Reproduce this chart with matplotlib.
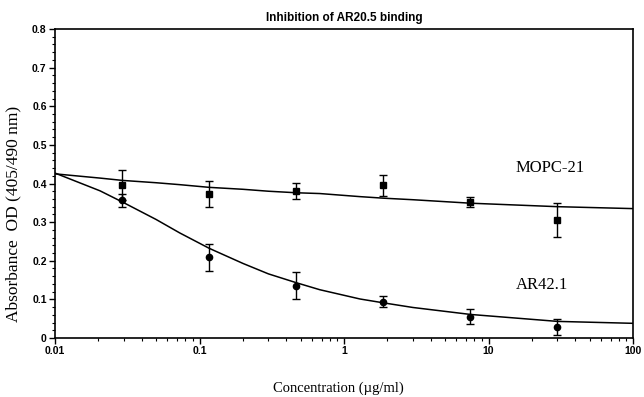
import matplotlib
matplotlib.use('Agg')
from matplotlib import pyplot as plt
from matplotlib.ticker import MultipleLocator, FixedLocator, NullFormatter

# measured points (ug/ml vs OD)
conc = [0.0293, 0.117, 0.469, 1.875, 7.5, 30]
mopc_od = [0.396, 0.373, 0.381, 0.395, 0.352, 0.306]
mopc_err = [0.040, 0.033, 0.020, 0.028, 0.012, 0.044]
ar_od = [0.356, 0.209, 0.135, 0.094, 0.055, 0.029]
ar_err = [0.018, 0.035, 0.035, 0.015, 0.020, 0.020]

# fitted curves
conc_fit = [0.01, 0.0205, 0.0293, 0.05, 0.073, 0.117, 0.2, 0.3, 0.469, 0.68, 1.29, 1.875, 3, 7.5, 30, 100]
mopc_fit = [0.425, 0.414, 0.408, 0.402, 0.397, 0.390, 0.385, 0.380, 0.376, 0.374, 0.366, 0.362, 0.358, 0.349, 0.340, 0.335]
ar_fit = [0.427, 0.381, 0.352, 0.307, 0.272, 0.232, 0.193, 0.166, 0.143, 0.125, 0.101, 0.091, 0.079, 0.061, 0.043, 0.038]

x_ticks = [0.01, 0.1, 1, 10, 100]
x_tick_labels = ['0.01', '0.1', '1', '10', '100']
y_ticks = [0, 0.1, 0.2, 0.3, 0.4, 0.5, 0.6, 0.7, 0.8]
y_tick_labels = ['0', '0.1', '0.2', '0.3', '0.4', '0.5', '0.6', '0.7', '0.8']

serif = 'Liberation Serif'
sans = 'Liberation Sans'

fig = plt.figure(figsize=(6.44, 3.97), dpi=100)
ax = fig.add_axes([55 / 644, 1 - 338 / 397, 578 / 644, 309 / 397])

ax.plot(conc_fit, mopc_fit, color='black', lw=1.1)
ax.plot(conc_fit, ar_fit, color='black', lw=1.1)
ax.errorbar(conc, mopc_od, yerr=mopc_err, fmt='s', color='black', ms=4.5,
            capsize=3, elinewidth=1.0, capthick=1.0)
ax.errorbar(conc, ar_od, yerr=ar_err, fmt='o', color='black', ms=4.5,
            capsize=3, elinewidth=1.0, capthick=1.0)

ax.text(15.5, 0.44, 'MOPC-21', family=serif, fontsize=12, va='center', ha='left')
ax.text(15.5, 0.137, 'AR42.1', family=serif, fontsize=12, va='center', ha='left')

ax.set_xscale('log')
ax.set_xlim(0.01, 100)
ax.set_ylim(0, 0.8)
ax.xaxis.set_major_locator(FixedLocator(x_ticks))
ax.set_xticklabels(x_tick_labels, family=sans, fontsize=7.5, fontweight='bold')
ax.xaxis.set_minor_locator(FixedLocator([m * d for d in x_ticks[:-1] for m in range(2, 10)]))
ax.xaxis.set_minor_formatter(NullFormatter())
ax.set_yticks(y_ticks)
ax.set_yticklabels(y_tick_labels, family=sans, fontsize=7.5, fontweight='bold')
ax.yaxis.set_minor_locator(MultipleLocator(0.02))

ax.tick_params(which='major', direction='out', length=4, width=1, pad=2)
ax.tick_params(which='minor', direction='out', length=2, width=0.8)
for s in ax.spines.values():
    s.set_linewidth(1.2)

ax.set_title('Inhibition of AR20.5 binding', family=sans, fontsize=8.5,
             fontweight='bold', pad=6)
ax.set_xlabel('Concentration (\u00b5g/ml)', family=serif, fontsize=10.5)
ax.xaxis.set_label_coords(0.491, -0.14)
ax.set_ylabel('Absorbance  OD (405/490 nm)', family=serif, fontsize=12.5)
ax.yaxis.set_label_coords(-0.058, 0.40)

fig.savefig('out.png', dpi=100)
